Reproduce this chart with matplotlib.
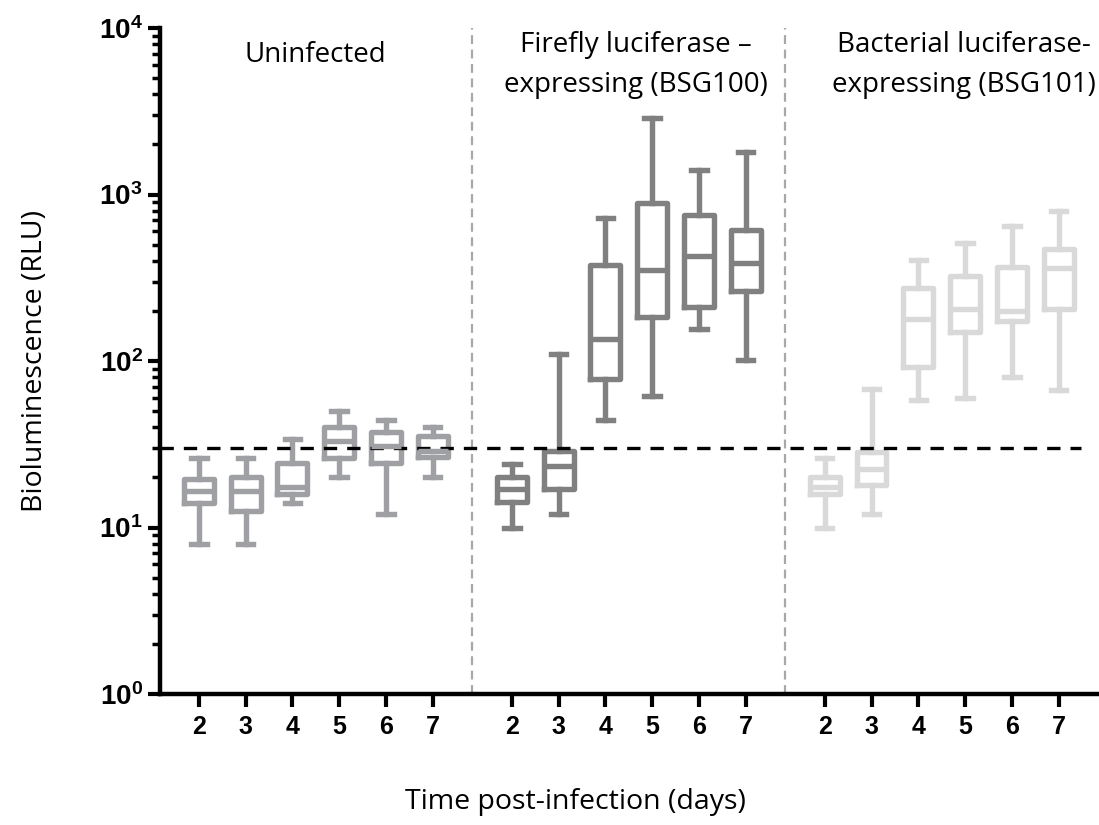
import matplotlib
matplotlib.use('Agg')
import matplotlib.pyplot as plt
from matplotlib.ticker import LogLocator, NullFormatter

plt.rcParams['font.family'] = ['Liberation Sans', 'DejaVu Sans']
plt.rcParams['mathtext.fontset'] = 'custom'
plt.rcParams['mathtext.bf'] = 'Liberation Sans:bold'
plt.rcParams['mathtext.rm'] = 'Liberation Sans:bold'

# data (RLU)
days = [2, 3, 4, 5, 6, 7]
groups = ['Uninfected', 'Firefly luciferase \u2013\nexpressing (BSG100)',
          'Bacterial luciferase-\nexpressing (BSG101)']
group_colors = ['#9fa0a4', '#808080', '#d9d9d9']

whislo = [[8, 8, 14, 20, 12, 20],
          [10, 12, 44, 62, 155, 102],
          [10, 12, 58, 60, 80, 67]]
q1 = [[14, 12.5, 16, 26, 24.5, 26.5],
      [14.3, 17, 78, 185, 210, 265],
      [16, 18, 92, 150, 175, 205]]
med = [[16.5, 16.5, 17.5, 33, 31, 29],
       [17, 23.5, 135, 350, 430, 390],
       [17.5, 22.5, 180, 205, 200, 360]]
q3 = [[19.5, 20, 24.5, 40, 37.5, 35.5],
      [20, 29, 375, 890, 755, 615],
      [20, 28.5, 275, 325, 365, 470]]
whishi = [[26, 26, 34, 50, 44, 40],
          [24, 110, 720, 2870, 1400, 1790],
          [26, 68, 405, 510, 650, 800]]
threshold = 30

fig = plt.figure(figsize=(10.99, 8.25), dpi=100)
ax = fig.add_axes([0.1456, 0.1588, 0.853, 0.8072])

gap = 1.69
pos_all = []
for g in range(3):
    start = g * (5 + gap)
    pos = [start + i for i in range(len(days))]
    pos_all += pos
    stats = []
    for i in range(len(days)):
        stats.append(dict(whislo=whislo[g][i], q1=q1[g][i], med=med[g][i],
                          q3=q3[g][i], whishi=whishi[g][i], fliers=[]))
    c = group_colors[g]
    ax.bxp(stats, positions=pos, widths=0.64, showfliers=False,
           boxprops=dict(color=c, linewidth=3.9, solid_joinstyle='round'),
           medianprops=dict(color=c, linewidth=3.9),
           whiskerprops=dict(color=c, linewidth=3.9),
           capprops=dict(color=c, linewidth=3.9),
           capwidths=0.33, manage_ticks=False)

xmin = -0.83
xmax = pos_all[-1] + 0.83
ax.set_xlim(xmin, xmax)
ax.set_yscale('log')
ax.set_ylim(1, 1e4)

# group separators
for g in range(1, 3):
    xs = (pos_all[6 * g - 1] + pos_all[6 * g]) / 2
    ax.axvline(xs, color='#a8a8a8', linestyle=(0, (4, 2.5)), linewidth=1.6)

# detection threshold
ax.hlines(threshold, xmin, pos_all[-1] + 0.47, colors='black',
          linestyles=(0, (4, 3)), linewidth=2.4)

# group titles
centers = [(pos_all[6 * g] + pos_all[6 * g + 5]) / 2 for g in range(3)]
ax.text(centers[0], 6900, groups[0], ha='center', va='center', fontsize=20,
        family=['Open Sans', 'DejaVu Sans'])
ax.text(centers[1] + 0.16, 6000, groups[1], ha='center', va='center', fontsize=20,
        family=['Open Sans', 'DejaVu Sans'], linespacing=1.55)
ax.text(centers[2] + 0.47, 6000, groups[2], ha='center', va='center', fontsize=20,
        family=['Open Sans', 'DejaVu Sans'], linespacing=1.55)

ax.set_xticks(pos_all)
ax.set_xticklabels([str(d) for d in days] * 3, fontsize=18, fontweight='bold')
ax.set_yticks([1, 10, 100, 1000, 10000])
ax.set_yticklabels([r'$\mathbf{10^{%d}}$' % k for k in range(5)], fontsize=20)
ax.yaxis.set_minor_locator(LogLocator(base=10, subs=range(2, 10)))
ax.yaxis.set_minor_formatter(NullFormatter())
ax.tick_params(axis='both', which='major', width=3, length=9, direction='out')
ax.tick_params(axis='y', which='minor', width=2.5, length=6)
ax.tick_params(axis='x', pad=6)

for s in ['top', 'right']:
    ax.spines[s].set_visible(False)
for s in ['left', 'bottom']:
    ax.spines[s].set_linewidth(3.2)

fig.text(0.032, 0.563, 'Bioluminescence (RLU)', rotation=90, ha='center',
         va='center', fontsize=20.5, family=['Open Sans', 'DejaVu Sans'])
fig.text(0.524, 0.028, 'Time post-infection (days)', ha='center', va='center',
         fontsize=20.5, family=['Open Sans', 'DejaVu Sans'])

fig.savefig('out.png', dpi=100)
